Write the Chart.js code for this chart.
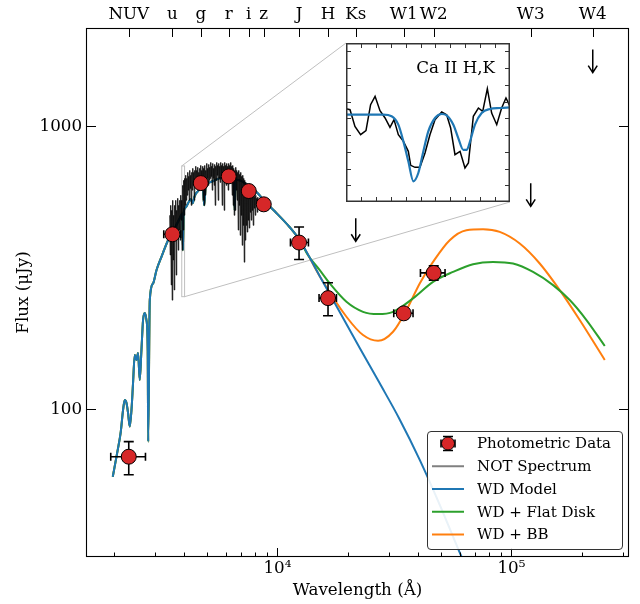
<!DOCTYPE html>
<html>
<head>
<meta charset="utf-8">
<title>WD SED</title>
<script src="https://cdn.jsdelivr.net/npm/chart.js@4.4.1/dist/chart.umd.min.js"></script>
<style>
  html, body { margin: 0; padding: 0; background: #fff; }
  #wrap { position: relative; width: 640px; height: 604px; }
  #insetChart { position: absolute; left: 346px; top: 43px; }
</style>
</head>
<body>
<div id="wrap">
  <canvas id="sedChart" width="640" height="604"></canvas>
  <canvas id="insetChart" width="164" height="159"></canvas>
</div>
<script>
// ---- axis ranges / ticks ----
const xMin = 1520, xMax = 318000;
const yMin = 30, yMax = 2230;
const xMajorTicks = [1e4, 1e5];
const xMajorLabels = ['10⁴', '10⁵'];
const xMinorTicks = [2000, 3000, 4000, 5000, 6000, 7000, 8000, 9000,
  20000, 30000, 40000, 50000, 60000, 70000, 80000, 90000, 200000, 300000];
const yMajorTicks = [100, 1000];
const yMajorLabels = ['100', '1000'];

// filter bands on the top axis
const bandName = ['NUV', 'u', 'g', 'r', 'i', 'z', 'J', 'H', 'Ks', 'W1', 'W2', 'W3', 'W4'];
const bandWave = [2315, 3558, 4702, 6193, 7542, 8740, 12370, 16450, 21610, 34650, 46550, 120900, 222600];

// ---- photometry (uJy) ----
const photWave   = [2315, 3558, 4702, 6193, 7542, 8740, 12370, 16450, 34650, 46550];
const photFlux   = [67.9, 415.6, 630.6, 666, 591.0, 530.4, 388.5, 247.1, 218.3, 303.4];
const photWaveLo = [1939, 3267, 4702, 6193, 7542, 8740, 11366, 15060, 31410, 40840];
const photWaveHi = [2729, 3862, 4702, 6193, 7542, 8740, 13565, 17870, 37970, 52030];
const photFluxLo = [58.6, 405, 630.6, 666, 591.0, 530.4, 338.3, 214.0, 212.3, 286.0];
const photFluxHi = [76.8, 426, 630.6, 666, 591.0, 530.4, 441.0, 279.9, 224.2, 321.2];

// upper limits (arrows)
const ulWave = [21610, 120900, 222600];
const ulFlux = [473.5, 629.1, 1870];

// ---- NOT spectrum ----
const specWave = [
  3465, 3482, 3499, 3517, 3534, 3551, 3569, 3586, 3604, 3622,
  3640, 3658, 3676, 3694, 3712, 3731, 3749, 3768, 3786, 3805,
  3824, 3843, 3862, 3881, 3900, 3919, 3939, 3958, 3978, 3997,
  4017, 4037, 4056, 4077, 4097, 4117, 4138, 4158, 4179, 4199,
  4220, 4241, 4262, 4283, 4304, 4325, 4347, 4368, 4390, 4411,
  4433, 4455, 4477, 4499, 4521, 4543, 4566, 4588, 4611, 4633,
  4656, 4679, 4702, 4725, 4749, 4772, 4796, 4819, 4843, 4867,
  4891, 4915, 4939, 4963, 4988, 5012, 5037, 5062, 5087, 5112,
  5137, 5162, 5188, 5213, 5239, 5265, 5291, 5317, 5343, 5369,
  5396, 5422, 5449, 5476, 5503, 5530, 5557, 5585, 5612, 5640,
  5668, 5696, 5724, 5752, 5780, 5809, 5837, 5866, 5895, 5924,
  5953, 5983, 6012, 6042, 6072, 6102, 6132, 6162, 6192, 6223,
  6254, 6285, 6316, 6347, 6378, 6410, 6441, 6473, 6505, 6537,
  6570, 6602, 6635, 6667, 6700, 6734, 6767, 6800, 6834, 6868,
  6902, 6936, 6970, 7004, 7039, 7074, 7109, 7144, 7179, 7215,
  7250, 7286, 7322, 7358, 7394, 7431, 7468, 7505, 7541, 7579,
  7616, 7654, 7691, 7729, 7767, 7806, 7844, 7883, 7922, 7961,
  8000, 8040, 8079, 8119, 8159, 8200, 8240, 8281, 8322, 8363,
  8404];
const specFlux = [
  485, 351, 526, 275, 505, 243, 548, 337, 485, 264,
  526, 396, 548, 298, 505, 412, 557, 365, 526, 430,
  548, 396, 571, 466, 548, 365, 619, 430, 645, 485,
  655, 526, 672, 548, 655, 571, 688, 595, 666, 548,
  699, 604, 672, 526, 688, 595, 711, 619, 688, 548,
  699, 634, 723, 619, 699, 645, 717, 595, 688, 634,
  711, 619, 728, 645, 699, 595, 723, 548, 711, 526,
  728, 571, 699, 634, 740, 655, 711, 619, 734, 645,
  717, 655, 746, 666, 723, 595, 740, 655, 711, 619,
  734, 526, 723, 645, 746, 672, 728, 548, 740, 655,
  723, 634, 746, 666, 728, 526, 740, 645, 723, 505,
  746, 655, 728, 619, 740, 645, 723, 595, 740, 655,
  728, 634, 746, 645, 723, 571, 728, 526, 711, 485,
  699, 505, 717, 595, 699, 548, 688, 430, 699, 526,
  677, 412, 688, 485, 666, 380, 672, 447, 655, 331,
  645, 396, 634, 447, 619, 423, 604, 466, 595, 437,
  604, 497, 585, 466, 595, 505, 575, 447, 580, 514,
  566, 485, 571, 526, 557, 497, 562, 518, 548, 505,
  544];

// ---- models ----
const wdWave = [1978, 2077, 2140, 2189, 2226, 2264, 2299, 2338, 2378, 2415,
  2456, 2497, 2537, 2579, 2623, 2665, 2710, 2756, 2790, 2803,
  2847, 2941, 3041, 3194, 3409, 3558, 3677, 3824, 3920, 3945,
  3975, 4056, 4262, 4340, 4420, 4656, 4800, 4861, 4938, 5136,
  5667, 6255, 6505, 6563, 6634, 6902, 7614, 8239, 8824, 9738,
  11287, 12454, 15165, 18460, 22474, 27362, 33090, 40560, 49390, 60130, 61930];
const wdFlux = [57.7, 71.8, 83.2, 99.4, 107.8, 105.2, 97.0, 86.8, 99.4, 123.8,
  155.5, 149.3, 158.0, 126.9, 161.9, 206.7, 218.8, 206.7, 161.9, 76.8,
  243.2, 278.5, 310.2, 345.7, 396.0, 419.0, 443.6, 473.5, 491.8, 365.1,
  495, 517.7, 553, 534.8, 565, 599.3, 610, 526.1, 614.1, 634.4,
  655.3, 660.7, 650, 505.2, 648, 644.9, 614.1, 580.2, 543.6, 501.2,
  440.0, 396.0, 295.4, 220.5, 164.6, 123.4, 92.9, 66.2, 45.9, 31.1, 29.4];

// the disk / BB fits follow the WD model blueward of these wavelengths
const diskJoin = 12454;
const diskWaveIR = [13515, 15165, 16730, 19720, 23215, 26910, 31190, 37970, 46240,
  56280, 68530, 83440, 101580, 123700, 150600, 177500, 209200, 250500];
const diskFluxIR = [350.5, 310.2, 278.5, 239.8, 221.0, 216.9, 221.0, 246.6, 282.1,
  305.9, 325.7, 331.9, 327.6, 305.9, 274.7, 243.2, 206.7, 167.3];

const bbJoin = 15165;
const bbWaveIR = [19720, 23215, 26910, 31190, 35590, 40560, 46240, 54480, 64220,
  75610, 89130, 108500, 132100, 160900, 195800, 250500];
const bbFluxIR = [212.3, 182.9, 174.6, 187.9, 224.2, 278.5, 331.9, 396.0, 429.5,
  433.0, 423.6, 385.4, 327.6, 263.7, 206.7, 149.3];

// ---- inset: Ca II H,K ----
const insetXMin = 3900, insetXMax = 4010, insetYMin = 250, insetYMax = 725;
const insetXTicks = [3910, 3920, 3930, 3940, 3950, 3960, 3970, 3980, 3990, 4000];
const insetYTicks = [300, 350, 400, 450, 500, 550, 600, 650, 700];
const insetWave = [3900.0, 3902.7, 3906.0, 3909.8, 3913.4, 3916.5, 3919.5, 3922.8, 3926.2, 3929.5,
  3932.2, 3935.1, 3938.5, 3941.8, 3943.4, 3946.3, 3949.6, 3953.0, 3956.3, 3959.7,
  3964.2, 3967.5, 3970.2, 3973.1, 3976.5, 3979.8, 3982.1, 3985.4, 3988.8, 3991.7,
  3994.8, 3997.7, 4001.1, 4004.4, 4007.3, 4010.0];
const insetFlux = [528.8, 525.8, 476, 451, 463, 540.7, 565.7, 522.8, 501, 473,
  496, 451, 431, 401.4, 359.6, 353.6, 353.6, 396.4, 451, 496,
  518.8, 510.8, 471, 391.4, 401.4, 351.6, 366.5, 506, 530.8, 520.8,
  588.5, 515.8, 481, 530.8, 560.6, 535.8];
const insetModelWave = [3900, 3925.0, 3930.6, 3935.1, 3938.5, 3941.8, 3945.2, 3948.5, 3951.9, 3955.2,
  3959.7, 3964.2, 3967.5, 3972.0, 3975.3, 3978.7, 3981.0, 3983.2, 3986.5, 3991.0,
  3996.6, 4003.3, 4010];
const insetModelFlux = [510.8, 510.8, 506, 481, 431, 371.5, 311.8, 336.6, 401.4, 461,
  501, 512.9, 509, 481, 441, 406, 406, 431, 481, 515.8,
  527.8, 530.8, 532.8];

const insetBox = { left: 346, top: 43, width: 164, height: 159 };

// ---- styling ----
const SERIF = "'DejaVu Serif', serif";
const FS = 16.7;
Chart.defaults.font.family = SERIF;
Chart.defaults.color = '#000';

function xy(xs, ys) { return xs.map((v, i) => ({ x: v, y: ys[i] })); }

const diskWave = wdWave.filter(w => w <= diskJoin).concat(diskWaveIR);
const diskFlux = wdFlux.filter((f, i) => wdWave[i] <= diskJoin).concat(diskFluxIR);
const bbWave = wdWave.filter(w => w <= bbJoin).concat(bbWaveIR);
const bbFlux = wdFlux.filter((f, i) => wdWave[i] <= bbJoin).concat(bbFluxIR);

function seg(ctx, x1, y1, x2, y2) { ctx.moveTo(x1, y1); ctx.lineTo(x2, y2); }

// error bars go under the red markers
const errorBars = {
  id: 'errorBars',
  beforeDatasetDraw(chart, args) {
    if (args.index !== 0) return;
    const { ctx, scales: { x, y } } = chart;
    ctx.save();
    ctx.strokeStyle = '#000';
    ctx.lineWidth = 1.6;
    ctx.beginPath();
    photWave.forEach((w, i) => {
      const px = x.getPixelForValue(w), py = y.getPixelForValue(photFlux[i]);
      const xl = x.getPixelForValue(photWaveLo[i]), xh = x.getPixelForValue(photWaveHi[i]);
      const yl = y.getPixelForValue(photFluxLo[i]), yh = y.getPixelForValue(photFluxHi[i]);
      if (xh - xl > 1) {
        seg(ctx, xl, py, xh, py);
        seg(ctx, xl, py - 4, xl, py + 4);
        seg(ctx, xh, py - 4, xh, py + 4);
      }
      if (yl - yh > 1) {
        seg(ctx, px, yl, px, yh);
        seg(ctx, px - 5, yl, px + 5, yl);
        seg(ctx, px - 5, yh, px + 5, yh);
      }
    });
    ctx.stroke();
    ctx.restore();
  }
};

// gray zoom rectangle + connectors to the inset
const zoomMark = {
  id: 'zoomMark',
  beforeDatasetsDraw(chart) {
    const { ctx, scales: { x, y } } = chart;
    const l = x.getPixelForValue(insetXMin), r = x.getPixelForValue(insetXMax);
    const t = y.getPixelForValue(insetYMax), b = y.getPixelForValue(insetYMin);
    ctx.save();
    ctx.strokeStyle = '#bfbfbf';
    ctx.lineWidth = 1;
    ctx.strokeRect(l, t, r - l, b - t);
    ctx.beginPath();
    seg(ctx, l, t, insetBox.left, insetBox.top);
    seg(ctx, r, b, insetBox.left + insetBox.width, insetBox.top + insetBox.height);
    ctx.stroke();
    ctx.restore();
  }
};

// upper-limit arrows
const limitArrows = {
  id: 'limitArrows',
  afterDatasetsDraw(chart) {
    const { ctx, scales: { x, y } } = chart;
    ctx.save();
    ctx.strokeStyle = '#000';
    ctx.lineWidth = 1.5;
    ctx.beginPath();
    ulWave.forEach((w, i) => {
      const px = x.getPixelForValue(w), py = y.getPixelForValue(ulFlux[i]);
      const tip = py + 23;
      seg(ctx, px, py, px, tip);
      ctx.moveTo(px - 4.5, tip - 7); ctx.lineTo(px, tip); ctx.lineTo(px + 4.5, tip - 7);
    });
    ctx.stroke();
    ctx.restore();
  }
};

// frame + inward ticks
const axesFrame = {
  id: 'axesFrame',
  afterDraw(chart) {
    const { ctx, chartArea: a, scales: { x, y } } = chart;
    const px = v => Math.round(x.getPixelForValue(v)) + 0.5;
    const py = v => Math.round(y.getPixelForValue(v)) + 0.5;
    ctx.save();
    ctx.strokeStyle = '#000';
    ctx.lineWidth = 1;
    ctx.beginPath();
    xMinorTicks.forEach(v => seg(ctx, px(v), a.bottom, px(v), a.bottom - 4.5));
    xMajorTicks.forEach(v => seg(ctx, px(v), a.bottom, px(v), a.bottom - 9));
    bandWave.forEach(v => seg(ctx, px(v), a.top, px(v), a.top + 9));
    yMajorTicks.forEach(v => {
      seg(ctx, a.left, py(v), a.left + 10, py(v));
      seg(ctx, a.right, py(v), a.right - 10, py(v));
    });
    ctx.stroke();
    ctx.lineWidth = 1.1;
    ctx.strokeRect(a.left + 0.5, a.top + 0.5, a.right - a.left - 1, a.bottom - a.top - 1);
    ctx.restore();
  }
};

function roundBox(ctx, x, y, w, h, r) {
  ctx.beginPath();
  ctx.moveTo(x + r, y);
  ctx.lineTo(x + w - r, y); ctx.arcTo(x + w, y, x + w, y + r, r);
  ctx.lineTo(x + w, y + h - r); ctx.arcTo(x + w, y + h, x + w - r, y + h, r);
  ctx.lineTo(x + r, y + h); ctx.arcTo(x, y + h, x, y + h - r, r);
  ctx.lineTo(x, y + r); ctx.arcTo(x, y, x + r, y, r);
  ctx.closePath();
}

// legend in the lower right corner
const boxLegend = {
  id: 'boxLegend',
  afterDraw(chart) {
    const { ctx, chartArea: a } = chart;
    const w = 195, h = 118;
    const left = a.right - 7 - w, top = a.bottom - 8 - h;
    ctx.save();
    roundBox(ctx, left + 0.5, top + 0.5, w, h, 3.5);
    ctx.fillStyle = 'rgba(255,255,255,0.9)';
    ctx.fill();
    ctx.strokeStyle = '#333';
    ctx.lineWidth = 1;
    ctx.stroke();
    ctx.font = '15px ' + SERIF;
    ctx.textBaseline = 'middle';
    chart.data.datasets.forEach((ds, i) => {
      const cy = top + 12.5 + i * 22.75;
      const hx = left + 5, hw = 32, cx = hx + hw / 2;
      if (i === 0) {
        ctx.strokeStyle = '#000';
        ctx.lineWidth = 1.6;
        ctx.beginPath();
        seg(ctx, cx, cy - 7, cx, cy + 7);
        seg(ctx, cx - 5, cy - 7, cx + 5, cy - 7);
        seg(ctx, cx - 5, cy + 7, cx + 5, cy + 7);
        seg(ctx, cx - 7, cy, cx + 7, cy);
        seg(ctx, cx - 7, cy - 4, cx - 7, cy + 4);
        seg(ctx, cx + 7, cy - 4, cx + 7, cy + 4);
        ctx.stroke();
        ctx.beginPath();
        ctx.arc(cx, cy, 6.5, 0, Math.PI * 2);
        ctx.fillStyle = ds.pointBackgroundColor;
        ctx.fill();
        ctx.lineWidth = 1;
        ctx.stroke();
      } else {
        ctx.strokeStyle = ds.legendColor || ds.borderColor;
        ctx.lineWidth = 2;
        ctx.beginPath();
        seg(ctx, hx, cy, hx + hw, cy);
        ctx.stroke();
      }
      ctx.fillStyle = '#000';
      ctx.fillText(ds.label, left + 50, cy + 1);
    });
    ctx.restore();
  }
};

new Chart(document.getElementById('sedChart'), {
  type: 'line',
  data: {
    datasets: [
      {
        label: 'Photometric Data',
        data: xy(photWave, photFlux),
        showLine: false,
        pointRadius: 7.5,
        pointBackgroundColor: '#d62728',
        pointBorderColor: '#000',
        pointBorderWidth: 1,
        order: 0
      },
      {
        label: 'NOT Spectrum',
        data: xy(specWave, specFlux),
        borderColor: 'rgba(0,0,0,0.85)',
        legendColor: '#808080',
        borderWidth: 1,
        pointRadius: 0,
        order: 1
      },
      {
        label: 'WD Model',
        data: xy(wdWave, wdFlux),
        borderColor: '#1f77b4',
        borderWidth: 2,
        pointRadius: 0,
        cubicInterpolationMode: 'monotone',
        order: 2
      },
      {
        label: 'WD + Flat Disk',
        data: xy(diskWave, diskFlux),
        borderColor: '#2ca02c',
        borderWidth: 2,
        pointRadius: 0,
        cubicInterpolationMode: 'monotone',
        order: 3
      },
      {
        label: 'WD + BB',
        data: xy(bbWave, bbFlux),
        borderColor: '#ff7f0e',
        borderWidth: 2,
        pointRadius: 0,
        cubicInterpolationMode: 'monotone',
        order: 4
      }
    ]
  },
  options: {
    responsive: false,
    animation: false,
    events: [],
    layout: { padding: { left: 0, right: 11, top: 0, bottom: 0 } },
    plugins: { legend: { display: false }, tooltip: { enabled: false } },
    scales: {
      x: {
        type: 'logarithmic',
        position: 'bottom',
        min: xMin, max: xMax,
        grid: { display: false, drawTicks: false },
        border: { display: false },
        afterBuildTicks: s => { s.ticks = xMajorTicks.map(v => ({ value: v })); },
        afterFit: s => { s.height = 47; },
        ticks: {
          autoSkip: false, maxRotation: 0, minRotation: 0, padding: 2,
          font: { size: FS },
          callback: v => xMajorLabels[xMajorTicks.indexOf(v)]
        },
        title: { display: true, text: 'Wavelength (Å)', font: { size: FS }, padding: { top: 0, bottom: 3 } }
      },
      xTop: {
        type: 'logarithmic',
        position: 'top',
        min: xMin, max: xMax,
        grid: { display: false, drawTicks: false },
        border: { display: false },
        afterBuildTicks: s => { s.ticks = bandWave.map(v => ({ value: v })); },
        afterFit: s => { s.height = 28; },
        ticks: {
          autoSkip: false, maxRotation: 0, minRotation: 0, padding: 3,
          font: { size: FS },
          callback: v => bandName[bandWave.indexOf(v)]
        }
      },
      y: {
        type: 'logarithmic',
        position: 'left',
        min: yMin, max: yMax,
        grid: { display: false, drawTicks: false },
        border: { display: false },
        afterBuildTicks: s => { s.ticks = yMajorTicks.map(v => ({ value: v })); },
        afterFit: s => { s.width = 86; },
        ticks: {
          autoSkip: false, padding: 4,
          font: { size: FS },
          callback: v => yMajorLabels[yMajorTicks.indexOf(v)]
        },
        title: { display: true, text: 'Flux (μJy)', font: { size: FS }, padding: { top: 14, bottom: 0 } }
      }
    }
  },
  plugins: [zoomMark, errorBars, limitArrows, axesFrame, boxLegend]
});

// inset frame, ticks and label
const insetFrame = {
  id: 'insetFrame',
  beforeDraw(chart) {
    const { ctx, width, height } = chart;
    ctx.save();
    ctx.fillStyle = '#fff';
    ctx.fillRect(0, 0, width, height);
    ctx.restore();
  },
  afterDraw(chart) {
    const { ctx, chartArea: a, scales: { x, y } } = chart;
    ctx.save();
    ctx.strokeStyle = '#333';
    ctx.lineWidth = 1;
    ctx.beginPath();
    insetXTicks.forEach(v => {
      const p = Math.round(x.getPixelForValue(v)) + 0.5;
      seg(ctx, p, a.bottom, p, a.bottom - 5);
      seg(ctx, p, a.top, p, a.top + 5);
    });
    insetYTicks.forEach(v => {
      const p = Math.round(y.getPixelForValue(v)) + 0.5;
      seg(ctx, a.left, p, a.left + 5, p);
      seg(ctx, a.right, p, a.right - 5, p);
    });
    ctx.stroke();
    ctx.lineWidth = 1.5;
    ctx.strokeRect(a.left + 0.75, a.top + 0.75, a.right - a.left - 1.5, a.bottom - a.top - 1.5);
    ctx.fillStyle = '#000';
    ctx.font = FS + 'px ' + SERIF;
    ctx.textAlign = 'right';
    ctx.textBaseline = 'alphabetic';
    ctx.fillText('Ca II H,K', a.right - 15, a.top + 30);
    ctx.restore();
  }
};

new Chart(document.getElementById('insetChart'), {
  type: 'line',
  data: {
    datasets: [
      {
        label: 'NOT Spectrum',
        data: xy(insetWave, insetFlux),
        borderColor: '#000',
        borderWidth: 1.5,
        pointRadius: 0,
        order: 1
      },
      {
        label: 'WD Model',
        data: xy(insetModelWave, insetModelFlux),
        borderColor: '#1f77b4',
        borderWidth: 2.2,
        pointRadius: 0,
        cubicInterpolationMode: 'monotone',
        order: 0
      }
    ]
  },
  options: {
    responsive: false,
    animation: false,
    events: [],
    layout: { padding: 0 },
    plugins: { legend: { display: false }, tooltip: { enabled: false } },
    scales: {
      x: { type: 'linear', min: insetXMin, max: insetXMax, display: false },
      y: { type: 'linear', min: insetYMin, max: insetYMax, display: false }
    }
  },
  plugins: [insetFrame]
});
</script>
</body>
</html>
